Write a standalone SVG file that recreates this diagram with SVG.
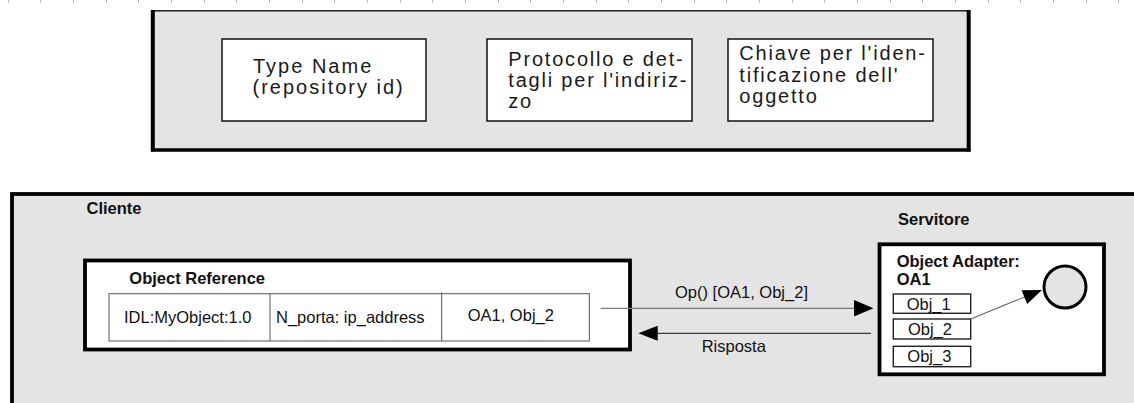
<svg xmlns="http://www.w3.org/2000/svg" width="1134" height="403" viewBox="0 0 1134 403">
  <style>
    .txt { font-family: "Liberation Sans", Arial, sans-serif; fill: #111; }
    .field { font-size: 20px; letter-spacing: 1.8px; fill: #1a1a1a; }
    .lbl { font-size: 16.5px; }
    .bold { font-weight: bold; }
    .panel { fill: #e4e4e4; }
    .card { fill: #ffffff; stroke: #111; stroke-width: 1.5; }
    .heavy { fill: #ffffff; stroke: #000; stroke-width: 3.8; }
    .cell { fill: none; stroke: #555; stroke-width: 1; }
    .slot { fill: #ffffff; stroke: #222; stroke-width: 1.4; }
    .tick { fill: none; stroke: #b8b8b8; stroke-width: 1; }
    .head { fill: #000; }
  </style>

  <rect width="1134" height="403" fill="#ffffff"/>
  <!-- ruler ticks along the top edge -->
  <path class="tick" d="M8.5 0v3M40.5 0v3M73.5 0v3M106.5 0v3M138.5 0v3M171.5 0v3M204.5 0v3M236.5 0v3M269.5 0v3M302.5 0v3M334.5 0v3M367.5 0v3M400.5 0v3M432.5 0v3M465.5 0v3M498.5 0v3M530.5 0v3M563.5 0v3M596.5 0v3M628.5 0v3M661.5 0v3M694.5 0v3M726.5 0v3M759.5 0v3M792.5 0v3M824.5 0v3M857.5 0v3M890.5 0v3M922.5 0v3M955.5 0v3M988.5 0v3M1020.5 0v3M1053.5 0v3M1086.5 0v3M1118.5 0v3"/>

  <!-- object reference layout: three fields -->
  <g id="reference-layout">
    <rect class="panel" x="152.5" y="10.8" width="816" height="139.2" stroke="#222" stroke-width="1.5"/>
    <line x1="152.8" y1="10" x2="152.8" y2="151.5" stroke="#000" stroke-width="4"/>
    <line x1="968.7" y1="10" x2="968.7" y2="151.5" stroke="#000" stroke-width="4"/>
    <line x1="151" y1="150" x2="970.5" y2="150" stroke="#000" stroke-width="3.4"/>
  </g>
  <g id="field-type-name">
    <rect class="card" x="222" y="39" width="204" height="82"/>
    <text class="txt field" x="253" y="72.7" style="letter-spacing:2px">Type Name</text>
    <text class="txt field" x="252.5" y="94.3" style="letter-spacing:2px">(repository id)</text>
  </g>
  <g id="field-protocol">
    <rect class="card" x="487" y="39" width="205" height="82"/>
    <text class="txt field" x="508.3" y="66">Protocollo e det-</text>
    <text class="txt field" x="508.3" y="87.3">tagli per l'indiriz-</text>
    <text class="txt field" x="508.3" y="108">zo</text>
  </g>
  <g id="field-object-key">
    <rect class="card" x="728" y="39" width="205" height="82"/>
    <text class="txt field" x="739.3" y="60">Chiave per l'iden-</text>
    <text class="txt field" x="739.3" y="81.5">tificazione dell'</text>
    <text class="txt field" x="739.3" y="103">oggetto</text>
  </g>

  <!-- client / server scenario -->
  <g id="scenario">
    <rect class="panel" x="12" y="194" width="1140" height="230" stroke="#000" stroke-width="3.8"/>
    <text class="txt lbl bold" x="86.5" y="214">Cliente</text>
    <text class="txt lbl bold" x="898" y="225">Servitore</text>
  </g>

  <g id="object-reference">
    <rect class="heavy" x="85" y="260.5" width="545" height="89"/>
    <text class="txt lbl bold" x="129.3" y="284">Object Reference</text>
    <rect class="cell" x="109" y="293.7" width="480.3" height="47.3"/>
    <line class="cell" x1="270" y1="293.7" x2="270" y2="341"/>
    <line class="cell" x1="441.7" y1="292.3" x2="441.7" y2="341"/>
    <text class="txt lbl" x="124" y="323">IDL:MyObject:1.0</text>
    <text class="txt lbl" x="276" y="323">N_porta: ip_address</text>
    <text class="txt lbl" x="467.7" y="321">OA1, Obj_2</text>
  </g>

  <g id="object-adapter">
    <rect class="heavy" x="879.5" y="244.3" width="224.5" height="130" stroke-width="3.5"/>
    <text class="txt lbl bold" x="896.7" y="266.7">Object Adapter:</text>
    <text class="txt lbl bold" x="896.7" y="285">OA1</text>
  </g>
  <g id="obj-1">
    <rect class="slot" x="893.3" y="294" width="77.4" height="19.3"/>
    <text class="txt lbl" x="906.7" y="310">Obj_1</text>
  </g>
  <g id="obj-2">
    <rect class="slot" x="893.3" y="319" width="77.4" height="20"/>
    <text class="txt lbl" x="908" y="334.5">Obj_2</text>
  </g>
  <g id="obj-3">
    <rect class="slot" x="893.3" y="346.3" width="77.4" height="20.4"/>
    <text class="txt lbl" x="907.3" y="362.3">Obj_3</text>
  </g>
  <g id="servant">
    <circle cx="1065" cy="287" r="21" fill="#e4e4e4" stroke="#000" stroke-width="3"/>
  </g>

  <!-- connectors -->
  <g id="connectors">
    <g id="request">
      <line x1="600.7" y1="308.3" x2="856" y2="308.3" stroke="#7a7a7a" stroke-width="1.3"/>
      <polygon class="head" points="854,300 873.5,308.3 854,316.6"/>
      <text class="txt lbl" x="675" y="298.3">Op() [OA1, Obj_2]</text>
    </g>
    <g id="reply">
      <line x1="871" y1="333.3" x2="655" y2="333.3" stroke="#111" stroke-width="1"/>
      <polygon class="head" points="657.7,325.8 638.3,333.3 657.7,340.8"/>
      <text class="txt lbl" x="701.7" y="351.7">Risposta</text>
    </g>
    <g id="dispatch">
      <line x1="970.7" y1="319" x2="1027" y2="296" stroke="#666" stroke-width="1.1"/>
      <polygon class="head" points="1021.6,290.3 1042,290 1027.2,304.1"/>
    </g>
  </g>
</svg>
